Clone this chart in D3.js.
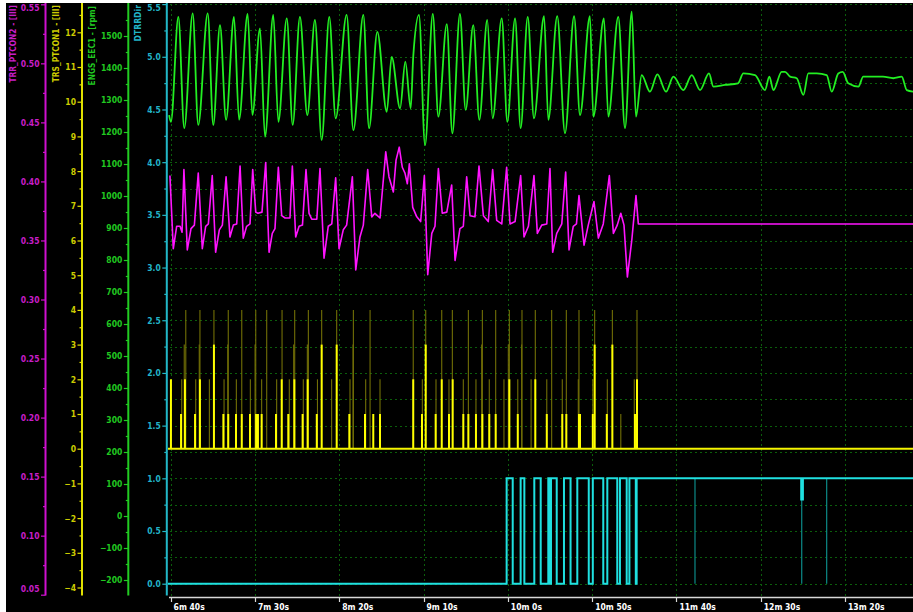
<!DOCTYPE html>
<html><head><meta charset="utf-8">
<script src="https://cdn.jsdelivr.net/npm/d3@7"></script>
<style>
html,body{margin:0;padding:0;background:#fff;}
svg{display:block}
</style></head>
<body>
<svg id="c" width="913" height="612"></svg>
<script>
// ---------------- data ----------------
const timeTicks = [400,450,500,550,600,650,700,750,800];
const timeTickLabels = ["6m 40s","7m 30s","8m 20s","9m 10s","10m 0s","10m 50s","11m 40s","12m 30s","13m 20s"];

const trrTicks = [0.05,0.10,0.15,0.20,0.25,0.30,0.35,0.40,0.45,0.50,0.55];
const trsTicks = [-4,-3,-2,-1,0,1,2,3,4,5,6,7,8,9,10,11,12];
const engsTicks = [-200,-100,0,100,200,300,400,500,600,700,800,900,1000,1100,1200,1300,1400,1500];
const dirTicks = [0,0.5,1,1.5,2,2.5,3,3.5,4,4.5,5,5.5];
const gridLevels = [0,0.25,0.5,0.75,1,1.25,1.5,1.75,2,2.25,2.5,2.75,3,3.25,3.5,3.75,4,4.25,4.5,4.75,5,5.25,5.5];

// ENGS_EEC1 [rpm] : [time s, rpm]
const engsRpm = [[399.1,1253],[400.2,1232],[404.6,1560],[408.1,1212],[413.1,1571],[416.4,1222],[422.0,1571],[425.3,1222],[429.3,1534],[432.9,1238],[437.6,1560],[440.6,1238],[445.7,1569],[448.5,1253],[453.0,1524],[456.0,1185],[460.9,1566],[463.9,1232],[468.9,1555],[472.4,1222],[476.7,1560],[481.1,1253],[485.6,1550],[489.6,1175],[494.1,1560],[497.9,1243],[504.4,1566],[508.4,1206],[514.3,1566],[517.7,1212],[522.6,1513],[528.2,1263],[531.1,1435],[536.1,1274],[539.2,1420],[542.4,1274],[543.9,1435],[547.3,1566],[550.9,1159],[555.5,1569],[558.8,1248],[563.8,1537],[567.1,1196],[571.6,1569],[575.0,1269],[579.5,1534],[583.1,1238],[587.8,1550],[591.0,1243],[596.4,1555],[599.7,1232],[604.3,1555],[607.6,1212],[611.8,1560],[615.5,1243],[621.5,1562],[624.0,1238],[629.3,1562],[633.9,1196],[639.3,1562],[642.8,1253],[648.7,1562],[650.7,1248],[657.0,1555],[659.6,1248],[665.5,1560],[669.5,1212],[673.5,1576],[676.0,1248],[679.4,1378],[684.3,1326],[688.7,1380],[693.8,1326],[698.2,1373],[704.1,1331],[709.1,1378],[714.0,1331],[719.3,1383],[721.9,1342],[728.8,1347],[736.5,1352],[739.7,1383],[746.6,1378],[752.5,1331],[755.1,1373],[757.5,1331],[762.4,1388],[764.4,1388],[767.4,1373],[771.3,1368],[775.3,1316],[778.2,1383],[783.2,1383],[789.1,1378],[792.1,1326],[796.0,1383],[798.6,1388],[801.9,1352],[807.9,1342],[810.8,1373],[822.5,1373],[828.6,1368],[833.6,1373],[836.6,1331],[840.3,1326]];

// TRR_PTCON2 [III] : [time s, value]
const trrValues = [[399.6,0.405],[401.6,0.343],[403.6,0.362],[405.6,0.362],[406.8,0.357],[407.9,0.410],[409.9,0.342],[412.1,0.360],[414.1,0.363],[416.4,0.407],[418.8,0.343],[420.8,0.362],[422.4,0.364],[424.7,0.405],[426.7,0.340],[428.9,0.359],[430.7,0.363],[432.9,0.404],[435.2,0.353],[437.2,0.363],[439.2,0.364],[441.2,0.413],[443.1,0.352],[445.1,0.362],[447.1,0.364],[448.7,0.410],[450.5,0.374],[451.8,0.373],[454.2,0.374],[456.4,0.416],[458.4,0.340],[460.3,0.356],[461.9,0.360],[463.9,0.412],[465.9,0.371],[467.9,0.369],[470.8,0.369],[472.2,0.413],[474.2,0.353],[476.2,0.362],[478.2,0.363],[480.3,0.410],[482.1,0.373],[483.7,0.368],[486.7,0.368],[488.6,0.411],[491.0,0.335],[493.5,0.362],[495.6,0.364],[497.9,0.403],[499.9,0.343],[502.4,0.359],[504.4,0.363],[507.8,0.404],[509.8,0.325],[512.3,0.353],[514.3,0.363],[516.9,0.410],[519.3,0.370],[521.2,0.373],[524.2,0.369],[527.6,0.425],[529.5,0.404],[532.1,0.391],[533.7,0.418],[535.6,0.429],[537.4,0.412],[539.0,0.407],[540.4,0.398],[541.6,0.415],[543.6,0.378],[546.0,0.370],[548.3,0.366],[550.5,0.405],[552.5,0.321],[554.9,0.356],[556.8,0.362],[558.8,0.411],[561.1,0.373],[563.8,0.374],[566.7,0.397],[568.7,0.333],[571.6,0.360],[573.6,0.362],[575.6,0.404],[577.6,0.371],[580.5,0.370],[582.9,0.413],[585.5,0.371],[588.4,0.366],[591.0,0.410],[593.4,0.367],[596.4,0.364],[599.3,0.412],[601.3,0.364],[604.3,0.366],[607.6,0.405],[609.6,0.353],[612.2,0.362],[615.5,0.405],[617.5,0.356],[620.1,0.363],[623.1,0.364],[625.0,0.411],[626.6,0.340],[629.0,0.356],[632.0,0.364],[634.3,0.408],[636.3,0.342],[638.8,0.362],[640.7,0.364],[642.2,0.388],[645.2,0.346],[647.7,0.363],[651.1,0.383],[653.7,0.352],[656.6,0.364],[660.2,0.405],[662.6,0.356],[664.9,0.363],[667.0,0.373],[668.9,0.363],[670.9,0.319],[673.5,0.350],[676.0,0.388],[677.4,0.364],[840.3,0.364]];

// TRS_PTCON1 [III] : baseline, bright spikes, faint (envelope) spikes
const trsBase = [[398,0],[841,0]];
const trsSpikes = [[400.2,2],[406.2,1],[408.5,2],[414.5,1],[417.4,2],[425.7,3],[431.3,1],[434.2,1],[438.8,1],[442.2,1],[447.1,1],[450.7,1],[451.8,1],[454.0,1],[462.5,1],[465.9,2],[469.8,1],[473.4,2],[478.3,1],[481.3,2],[486.7,1],[489.6,3],[498.5,3],[506.0,1],[515.3,1],[520.2,1],[524.2,1],[543.9,2],[549.1,1],[551.3,3],[557.2,1],[560.8,2],[565.1,1],[567.3,2],[573.6,1],[576.6,1],[581.1,1],[584.9,1],[589.0,1],[592.8,1],[600.9,2],[605.9,1],[616.3,2],[623.1,1],[632.3,1],[634.7,1],[642.2,1],[642.8,1],[650.4,1],[651.5,3],[658.7,1],[662.0,3],[675.4,1],[676.6,2]];
const trsFaint = [[406.6,2],[409.0,4],[408.1,3],[414.9,2],[417.4,4],[417.0,3],[423.0,2],[425.7,4],[431.7,2],[433.9,3],[434.2,4],[439.0,2],[442.2,4],[447.3,2],[450.5,4],[450.1,3],[454.0,2],[457.0,4],[462.9,2],[466.1,4],[470.4,2],[473.6,4],[473.0,3],[478.7,2],[481.7,4],[481.1,3],[487.1,2],[489.6,4],[495.5,2],[498.5,4],[506.4,2],[508.4,4],[508.2,3],[515.7,2],[518.3,4],[524.2,2],[543.9,4],[549.3,2],[551.3,4],[557.4,2],[560.8,4],[565.1,2],[567.1,4],[573.6,2],[576.6,4],[581.1,2],[584.9,4],[584.5,3],[589.0,2],[592.8,4],[597.7,2],[600.9,4],[600.3,3],[605.9,2],[608.4,4],[608.2,3],[613.8,2],[616.3,4],[623.1,2],[626.0,4],[632.3,2],[634.7,4],[641.8,2],[642.2,4],[650.4,2],[651.5,4],[659.0,2],[662.0,4],[667.0,1],[675.0,2],[676.6,4]];

// DTRRDir : step signal and faint minimum spikes
const dirSteps = [[398,0],[599.3,1],[602.9,0],[607.6,1],[609.8,0],[615.7,1],[619.5,0],[624.0,1],[625.0,0],[625.6,1],[629.0,0],[633.3,1],[637.2,0],[641.2,1],[648.0,0],[650.4,1],[656.6,0],[659.0,1],[664.9,0],[666.5,1],[670.5,0],[672.1,1],[675.9,0],[676.4,1],[774.0,0.8],[775.0,1],[841,1]];
const dirFaint = [[711.0,0],[774.3,0],[789.1,0]];

// ---------------- drawing ----------------
const W = 913, H = 612;
const svg = d3.select("#c");
const FONT = "'DejaVu Sans Condensed','DejaVu Sans',sans-serif";

svg.append("rect").attr("x",6).attr("y",3).attr("width",W-6).attr("height",H-3).attr("fill","#000");

const x = d3.scaleLinear().domain([400,840]).range([170.6,912.5]);
const yTrr = d3.scaleLinear().domain([0.05,0.55]).range([594.7,4.3]);
const yTrs = d3.scaleLinear().domain([-4,12]).range([587.5,32.3]);
const yEng = d3.scaleLinear().domain([-200,1500]).range([580,36]);
const yDir = d3.scaleLinear().domain([0,5.5]).range([583.7,4.1]);

const plotL = 168, plotR = 913, plotT = 3, plotB = 596;

svg.append("clipPath").attr("id","clip").append("rect")
  .attr("x",plotL).attr("y",plotT).attr("width",plotR-plotL).attr("height",plotB-plotT);

// grid
const grid = svg.append("g").attr("stroke","#0b5e0b").attr("stroke-width",1).attr("stroke-dasharray","2,3");
grid.selectAll("line.h").data(gridLevels).join("line")
  .attr("x1",plotL+2).attr("x2",plotR).attr("y1",d=>Math.round(yDir(d))+0.5).attr("y2",d=>Math.round(yDir(d))+0.5);
grid.selectAll("line.v").data(timeTicks).join("line")
  .attr("x1",d=>Math.round(x(d))+0.5).attr("x2",d=>Math.round(x(d))+0.5).attr("y1",plotT+1).attr("y2",plotB);

const plot = svg.append("g").attr("clip-path","url(#clip)");

// yellow faint spikes
plot.append("g").selectAll("line").data(trsFaint).join("line")
  .attr("x1",d=>x(d[0])).attr("x2",d=>x(d[0]))
  .attr("y1",yTrs(0)).attr("y2",d=>yTrs(d[1]))
  .attr("stroke","#726f06").attr("stroke-width",1.1);
// yellow bright spikes
plot.append("g").selectAll("line").data(trsSpikes).join("line")
  .attr("x1",d=>x(d[0])).attr("x2",d=>x(d[0]))
  .attr("y1",yTrs(0)).attr("y2",d=>yTrs(d[1]))
  .attr("stroke","#ffff00").attr("stroke-width",2);
plot.append("path").datum(trsBase)
  .attr("d",d3.line().x(d=>x(d[0])).y(d=>yTrs(d[1])))
  .attr("fill","none").attr("stroke","#f5f500").attr("stroke-width",2);

// cyan faint
plot.append("g").selectAll("line").data(dirFaint).join("line")
  .attr("x1",d=>x(d[0])).attr("x2",d=>x(d[0]))
  .attr("y1",yDir(1)).attr("y2",d=>yDir(d[1]))
  .attr("stroke","#0c8a88").attr("stroke-width",1.2);
plot.append("path").datum(dirSteps)
  .attr("d",d3.line().curve(d3.curveStepAfter).x(d=>x(d[0])).y(d=>yDir(d[1])))
  .attr("fill","none").attr("stroke","#1fe0e0").attr("stroke-width",2);

// magenta
plot.append("path").datum(trrValues)
  .attr("d",d3.line().x(d=>x(d[0])).y(d=>yTrr(d[1])))
  .attr("fill","none").attr("stroke","#ff14ff").attr("stroke-width",1.6).attr("stroke-linejoin","round");

// green
plot.append("path").datum(engsRpm)
  .attr("d",d3.line().curve(d3.curveMonotoneX).x(d=>x(d[0])).y(d=>yEng(d[1])))
  .attr("fill","none").attr("stroke","#22ee22").attr("stroke-width",1.8);

// y axes
function minorOf(ticks){
  const out=[];
  for(let i=0;i<ticks.length-1;i++) out.push((ticks[i]+ticks[i+1])/2);
  return out;
}
function drawAxis(cfg){
  const gMin = svg.append("g").attr("transform",`translate(${cfg.x},0)`)
    .call(d3.axisLeft(cfg.scale).tickValues(cfg.minor).tickSize(2.5).tickFormat(""));
  const gMaj = svg.append("g").attr("transform",`translate(${cfg.x},0)`)
    .call(d3.axisLeft(cfg.scale).tickValues(cfg.major).tickSize(4.5).tickPadding(1.5).tickFormat(cfg.fmt));
  [gMin,gMaj].forEach(g=>{
    g.select(".domain").remove();
    g.selectAll("line").attr("stroke",cfg.color).attr("stroke-width",1.2);
  });
  gMaj.selectAll("text")
    .attr("fill",cfg.text).style("font-family",FONT).style("font-size","8.5px").style("font-weight","bold")
    .attr("dy",d=>{
      const yy=cfg.scale(d);
      if(yy<7.5) return (7.5-yy+2.9)+"px";
      if(yy>589) return (589-yy+2.9)+"px";
      return "2.9px";
    });
  svg.append("line").attr("x1",cfg.x).attr("x2",cfg.x).attr("y1",3).attr("y2",595.5)
    .attr("stroke",cfg.color).attr("stroke-width",2);
  svg.append("text").attr("transform",`translate(${cfg.tx},${cfg.ty}) rotate(-90)`)
    .attr("text-anchor","end").attr("fill",cfg.text)
    .style("font-family",FONT).style("font-size",cfg.fs+"px").style("font-weight","bold")
    .text(cfg.title);
}
drawAxis({x:45.5, scale:yTrr, major:trrTicks, minor:minorOf(trrTicks), fmt:d3.format(".2f"),
  color:"#d010d0", text:"#c81ec8", title:"TRR_PTCON2 - [III]", tx:15.8, ty:5, fs:8.3});
drawAxis({x:82, scale:yTrs, major:trsTicks, minor:minorOf(trsTicks).concat([12.5]), fmt:d3.format("d"),
  color:"#e0e000", text:"#cccc00", title:"TRS_PTCON1 - [III]", tx:58.8, ty:5, fs:8.3});
drawAxis({x:128.3, scale:yEng, major:engsTicks, minor:minorOf(engsTicks).concat([1550]), fmt:d3.format("d"),
  color:"#22cc22", text:"#20c820", title:"ENGS_EEC1 - [rpm]", tx:94.5, ty:6, fs:8.3});
drawAxis({x:166.8, scale:yDir, major:dirTicks, minor:minorOf(dirTicks), fmt:d3.format(".1f"),
  color:"#22b8c8", text:"#22b4c8", title:"DTRRDir", tx:141.3, ty:5, fs:8.6});

// x axis
const xa = svg.append("g");
xa.append("line").attr("x1",plotL+1).attr("x2",plotR).attr("y1",597.5).attr("y2",597.5)
  .attr("stroke","#d8d8d8").attr("stroke-width",1.5);
xa.selectAll("line.t").data(timeTicks).join("line")
  .attr("x1",d=>Math.round(x(d))+0.5).attr("x2",d=>Math.round(x(d))+0.5)
  .attr("y1",597).attr("y2",602).attr("stroke","#d8d8d8").attr("stroke-width",1.2);
xa.selectAll("text").data(timeTicks).join("text")
  .attr("x",d=>x(d)+3).attr("y",610)
  .attr("fill","#ffffff").style("font-family",FONT).style("font-size","8.5px").style("font-weight","bold")
  .text((d,i)=>timeTickLabels[i]);
</script>
</body></html>
